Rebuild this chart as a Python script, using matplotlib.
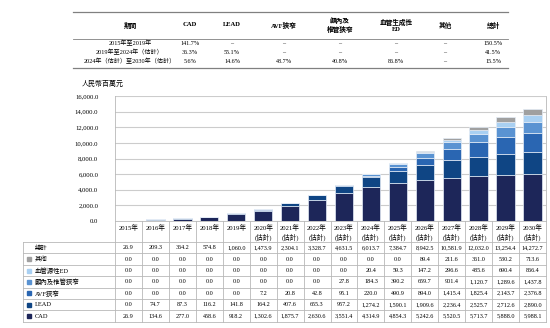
import matplotlib.pyplot as plt
import matplotlib.transforms as mtrans
from matplotlib.lines import Line2D
from matplotlib.patches import Rectangle

plt.rcParams['font.family'] = ['Liberation Serif', 'Noto Sans CJK TC']

# ---- data ----
years = [str(y) for y in range(2015, 2031)]
estimated = [False] * 5 + [True] * 11

cad = [26.9, 134.6, 277.0, 458.6, 918.2, 1302.6, 1875.7, 2630.6, 3551.4, 4314.9,
       4854.3, 5242.6, 5520.5, 5713.7, 5888.0, 5988.1]
lead = [0.0, 74.7, 87.3, 116.2, 141.8, 164.2, 407.6, 655.3, 957.2, 1274.2,
        1590.1, 1909.6, 2236.4, 2525.7, 2712.6, 2890.0]
avf = [0.0, 0.0, 0.0, 0.0, 0.0, 7.2, 20.8, 42.8, 95.1, 220.0,
       490.9, 894.0, 1415.4, 1825.4, 2143.7, 2376.8]
intracranial = [0.0, 0.0, 0.0, 0.0, 0.0, 0.0, 0.0, 0.0, 27.8, 184.3,
                390.2, 659.7, 901.4, 1120.7, 1289.6, 1437.8]
ed = [0.0, 0.0, 0.0, 0.0, 0.0, 0.0, 0.0, 0.0, 0.0, 20.4,
      59.3, 147.2, 296.6, 485.6, 690.4, 866.4]
other = [0.0, 0.0, 0.0, 0.0, 0.0, 0.0, 0.0, 0.0, 0.0, 0.0,
         0.0, 89.4, 211.6, 361.0, 530.2, 713.6]
total = [26.9, 209.3, 364.2, 574.8, 1060.0, 1473.9, 2304.1, 3328.7, 4631.5, 6013.7,
         7384.7, 8942.5, 10581.9, 12032.0, 13254.4, 14272.7]

series = [cad, lead, avf, intracranial, ed, other]
series_names = ['CAD', 'LEAD', 'AVF狹窄', '顱內及椎管狹窄', '血管源性ED', '其他']
colors = ['#1d2659', '#0f4584', '#2a66b2', '#5a93d2', '#a9d0f2', '#a0a0a0']

cagr_headers = ['期間', 'CAD', 'LEAD', 'AVF狹窄', '顱內及\n椎管狹窄', '血管生成性\nED', '其他', '總計']
cagr_periods = ['2015年至2019年', '2019年至2024年（估計）', '2024年（估計）至2030年（估計）']
cagr_cad = ['141.7%', '36.3%', '5.6%']
cagr_lead = ['–', '55.1%', '14.6%']
cagr_avf = ['–', '–', '48.7%']
cagr_intracranial = ['–', '–', '40.8%']
cagr_ed = ['–', '–', '86.8%']
cagr_other = ['–', '–', '–']
cagr_total = ['150.5%', '41.5%', '15.5%']

# ---- figure ----
W, H = 550, 328
fig = plt.figure(figsize=(5.5, 3.28), dpi=100)


def fx(x):
    return x / W


def fy(y):
    return 1 - y / H


line_c = '#b8b8b8'


def hline(y, x0, x1, c=line_c, lw=0.6):
    fig.add_artist(Line2D([fx(x0), fx(x1)], [fy(y), fy(y)], color=c, lw=lw,
                          transform=fig.transFigure))


def vline(x, y0, y1, c=line_c, lw=0.6):
    fig.add_artist(Line2D([fx(x), fx(x)], [fy(y0), fy(y1)], color=c, lw=lw,
                          transform=fig.transFigure))


# ---- CAGR table at top ----
hline(12, 73, 508, c='#808080', lw=0.9)
hline(39, 73, 508, c='#808080', lw=0.6)
hline(68, 73, 508, c='#808080', lw=0.9)
col_x = [130, 190, 232, 284, 340, 396, 445, 493]
for x, h in zip(col_x, cagr_headers):
    fig.text(fx(x), fy(25), h, ha='center', va='center', fontsize=4.8,
             fontweight='bold', linespacing=1.3)
cols = [cagr_periods, cagr_cad, cagr_lead, cagr_avf, cagr_intracranial,
        cagr_ed, cagr_other, cagr_total]
row_y = [43.5, 52.5, 61.5]
for x, col in zip(col_x, cols):
    for y, v in zip(row_y, col):
        fig.text(fx(x), fy(y), v, ha='center', va='center', fontsize=4.4)

# ---- bar chart ----
ax = fig.add_axes([fx(115), fy(221), fx(546) - fx(115), fy(96) - fy(221)])
x = list(range(len(years)))
bottom = [0.0] * len(years)
for vals, name, c in zip(series, series_names, colors):
    ax.bar(x, vals, width=0.68, bottom=bottom, color=c, edgecolor='#e4ecf6',
           linewidth=0.5, label=name, zorder=3)
    bottom = [b + v for b, v in zip(bottom, vals)]

ax.set_xlim(-0.5, len(years) - 0.5)
ax.set_ylim(0, 16000)
ax.set_yticks(range(0, 16001, 2000))
ax.set_yticklabels([f'{v:,.1f}' for v in range(0, 16001, 2000)], fontsize=4.8)
ax.tick_params(axis='y', length=0, pad=12)
ax.set_xticks([])
ax.grid(axis='y', color='#cccccc', lw=0.8, zorder=0)
for s in ['top', 'bottom']:
    ax.spines[s].set_visible(False)
ax.spines['left'].set_color(line_c)
ax.spines['right'].set_color(line_c)
ax.spines['left'].set_linewidth(0.6)
ax.spines['right'].set_linewidth(0.6)
fig.text(fx(82), fy(83), '人民幣百萬元', ha='left', va='center', fontsize=5)

# ---- data table under the chart ----
tr = mtrans.blended_transform_factory(ax.transData, fig.transFigure)
hline(221, 115, 546)
vline(115, 221, 322)
vline(546, 221, 322)
vline(23, 242, 322)
for i in range(1, len(years)):
    fig.add_artist(Line2D([i - 0.5, i - 0.5], [fy(221), fy(322)], color=line_c,
                          lw=0.6, transform=tr))
for i, (yr, est) in enumerate(zip(years, estimated)):
    fig.text(i, fy(227), yr + '年', transform=tr, ha='center', va='center', fontsize=4.8)
    if est:
        fig.text(i, fy(237), '(估計)', transform=tr, ha='center', va='center', fontsize=4.8)

row_h = 11.4
top = 242
rows = [('總計', total, None)] + [(n, s, c) for n, s, c in
                                  zip(series_names[::-1], series[::-1], colors[::-1])]
for r in range(len(rows) + 1):
    hline(top + r * row_h, 23, 546)
for r, (name, vals, c) in enumerate(rows):
    yc = top + (r + 0.5) * row_h
    fig.text(fx(35), fy(yc), name, ha='left', va='center', fontsize=4.6)
    if c is not None:
        fig.add_artist(Rectangle((fx(27), fy(yc + 2)), fx(4), 4 / H, color=c,
                                 transform=fig.transFigure))
    for i, v in enumerate(vals):
        fig.text(i, fy(yc), f'{v:,.1f}', transform=tr, ha='center', va='center',
                 fontsize=4.4)

fig.savefig('out.png', dpi=100)
